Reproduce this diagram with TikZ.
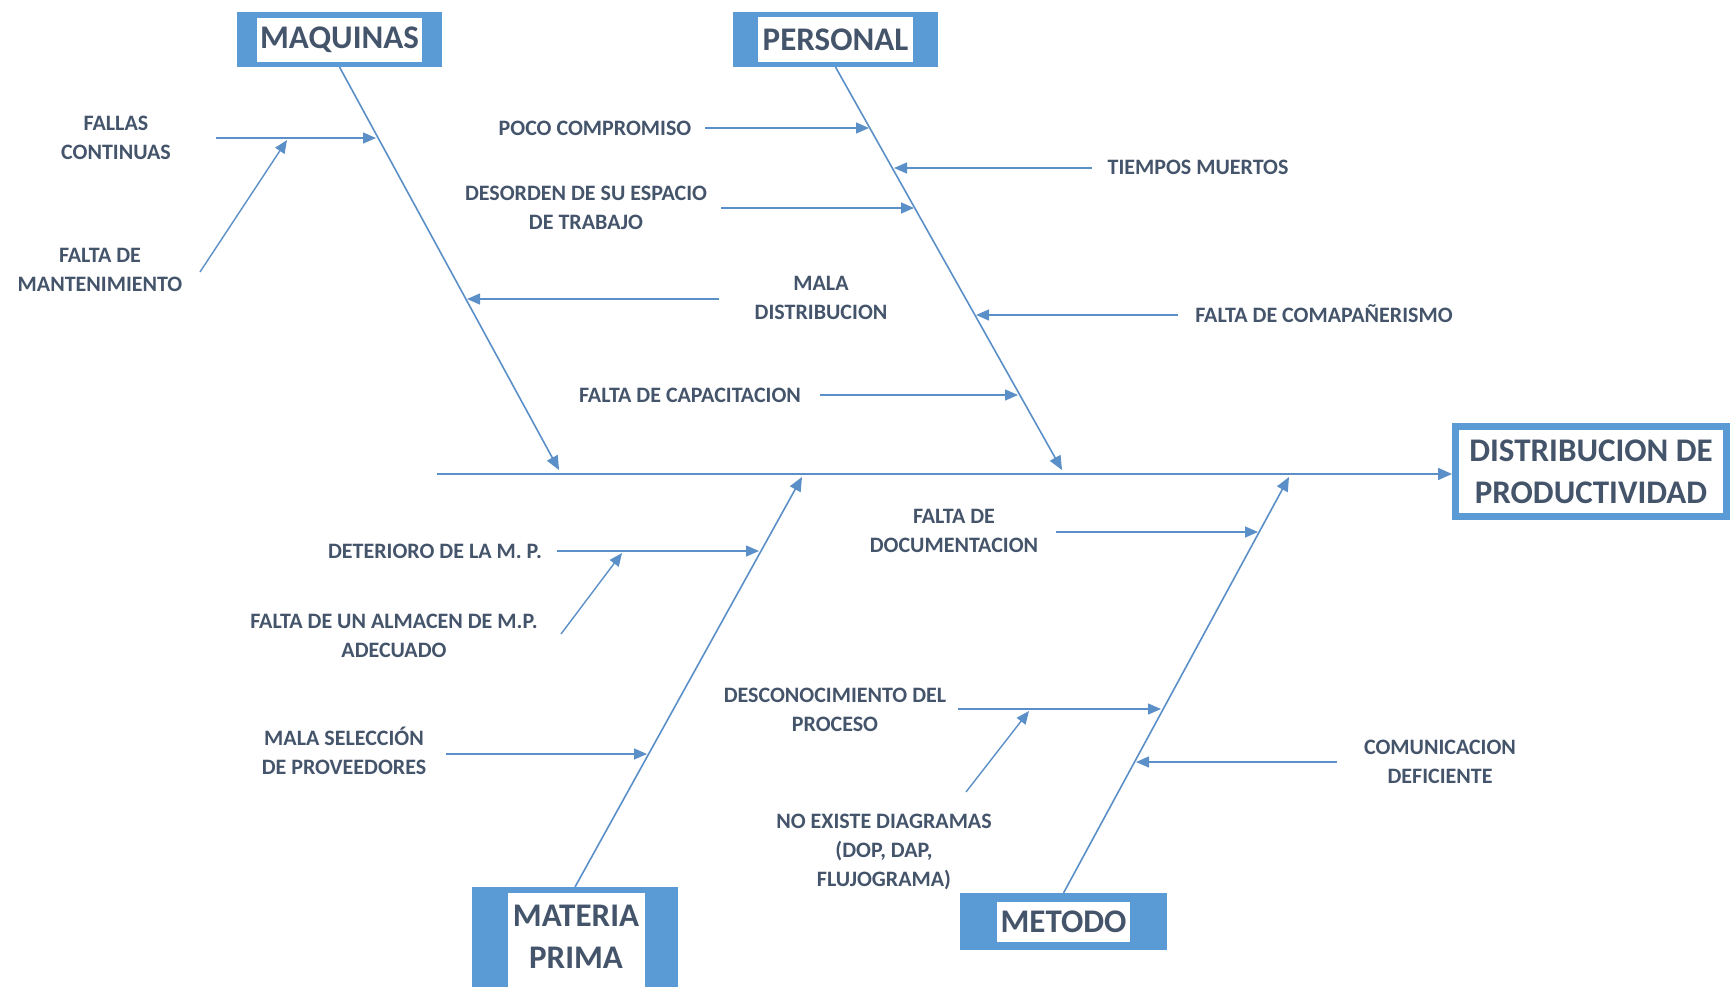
\documentclass[tikz,border=0pt]{standalone}
\usepackage{fontspec}
\setmainfont{Carlito}
\usetikzlibrary{arrows.meta}
\definecolor{boxblue}{HTML}{5B9BD5}
\definecolor{txt}{HTML}{44546A}
\definecolor{linec}{HTML}{5B8FC7}

\begin{document}
\begin{tikzpicture}[x=0.5pt,y=-0.5pt,
  lbl/.style={font=\bfseries\fontsize{11}{14.4}\selectfont, text=txt, align=center, inner sep=0pt},
  headtxt/.style={font=\bfseries\fontsize{16.5}{21}\selectfont, text=txt, align=center, inner sep=0pt},
  blueblock/.style={fill=boxblue, inner sep=0pt, outer sep=0pt},
  bone/.style={draw=linec, line width=0.8pt, -{Triangle[length=7pt,width=6pt]}},
  rib/.style={draw=linec, line width=0.7pt, -{Triangle[length=6.5pt,width=5.5pt]}},
]
\useasboundingbox (0,0) rectangle (1735,986);
\begin{scope}
\clip (0,0) rectangle (1735,986);

% ---------- category headers ----------
\node[blueblock, minimum width=102.5pt, minimum height=27.5pt] (maq) at (339.5,39.5) {};
\fill[white] (257,18) rectangle (422,62);
\node[headtxt] (maqt) at (339.5,40) {MAQUINAS};

\node[blueblock, minimum width=102.5pt, minimum height=27.5pt] (per) at (835.5,39.5) {};
\fill[white] (758,17) rectangle (913,62);
\node[headtxt] (pert) at (835.5,40) {PERSONAL};

\node[blueblock, minimum width=103pt, minimum height=56.5pt] (mp) at (575,943.5) {};
\fill[white] (508,893) rectangle (645,1000);
\node[headtxt] (mpt) at (576,937) {MATERIA\\PRIMA};

\node[blueblock, minimum width=103.5pt, minimum height=28.5pt] (met) at (1063.5,921.5) {};
\fill[white] (997,902) rectangle (1130,942);
\node[headtxt] (mett) at (1063.5,922) {METODO};

% ---------- effect ----------
\node[draw=boxblue, line width=3.5pt, fill=white, minimum width=135.5pt, minimum height=45pt,
      inner sep=0pt, headtxt] (efecto) at (1591,471.5) {DISTRIBUCION DE\\PRODUCTIVIDAD};

% ---------- spine ----------
\coordinate (spst) at (437,474);
\draw[bone] (spst) -- (spst -| efecto.west);

% ---------- main bones ----------
\coordinate (maqend) at (559,470);
\coordinate (perend) at (1062,470);
\coordinate (mpend) at (802,477);
\coordinate (metend) at (1289,477);
\draw[bone] (maq.south) -- (maqend);
\draw[bone] (per.south) -- (perend);
\draw[bone] (mp.north) -- (mpend);
\draw[bone] (met.north) -- (metend);

% ---------- MAQUINAS causes ----------
\node[lbl] (fallas) at (116,138) {FALLAS\\CONTINUAS};
\coordinate (fallasA) at (216,138); \coordinate (fallasB) at (376,138);
\draw[rib] (fallasA) -- (fallasB);

\node[lbl] (mant) at (100,270) {FALTA DE\\MANTENIMIENTO};
\coordinate (mantA) at (200,272); \coordinate (mantB) at (287,140);
\draw[rib] (mantA) -- (mantB);

\node[lbl] (maladist) at (821,298) {MALA\\DISTRIBUCION};
\coordinate (maladistA) at (719,299); \coordinate (maladistB) at (467,299);
\draw[rib] (maladistA) -- (maladistB);

% ---------- PERSONAL causes ----------
\node[lbl] (poco) at (595,128) {POCO COMPROMISO};
\coordinate (pocoA) at (705,128); \coordinate (pocoB) at (869,128);
\draw[rib] (pocoA) -- (pocoB);

\node[lbl] (tiempos) at (1198,167) {TIEMPOS MUERTOS};
\coordinate (tiemposA) at (1092,168); \coordinate (tiemposB) at (894,168);
\draw[rib] (tiemposA) -- (tiemposB);

\node[lbl] (desorden) at (586,208) {DESORDEN DE SU ESPACIO\\DE TRABAJO};
\coordinate (desordenA) at (721,208); \coordinate (desordenB) at (914,208);
\draw[rib] (desordenA) -- (desordenB);

\node[lbl] (compan) at (1324,314) {FALTA DE COMAPAÑERISMO};
\coordinate (companA) at (1178,315); \coordinate (companB) at (976,315);
\draw[rib] (companA) -- (companB);

\node[lbl] (capac) at (690,395) {FALTA DE CAPACITACION};
\coordinate (capacA) at (820,395); \coordinate (capacB) at (1018,395);
\draw[rib] (capacA) -- (capacB);

% ---------- MATERIA PRIMA causes ----------
\node[lbl] (deterioro) at (435,551) {DETERIORO DE LA M. P.};
\coordinate (deterioroA) at (557,551); \coordinate (deterioroB) at (759,551);
\draw[rib] (deterioroA) -- (deterioroB);

\node[lbl] (almacen) at (394,636) {FALTA DE UN ALMACEN DE M.P.\\ADECUADO};
\coordinate (almacenA) at (561,634); \coordinate (almacenB) at (622,553);
\draw[rib] (almacenA) -- (almacenB);

\node[lbl] (seleccion) at (344,751) {MALA SELECCIÓN\\DE PROVEEDORES};
\coordinate (seleccionA) at (446,754); \coordinate (seleccionB) at (647,754);
\draw[rib] (seleccionA) -- (seleccionB);

% ---------- METODO causes ----------
\node[lbl] (docum) at (954,531) {FALTA DE\\DOCUMENTACION};
\coordinate (documA) at (1056,532); \coordinate (documB) at (1258,532);
\draw[rib] (documA) -- (documB);

\node[lbl] (descon) at (835,710) {DESCONOCIMIENTO DEL\\PROCESO};
\coordinate (desconA) at (958,709); \coordinate (desconB) at (1161,709);
\draw[rib] (desconA) -- (desconB);

\node[lbl] (noexiste) at (884,852) {NO EXISTE DIAGRAMAS\\(DOP, DAP,\\FLUJOGRAMA)};
\coordinate (noexisteA) at (966,792); \coordinate (noexisteB) at (1029,711);
\draw[rib] (noexisteA) -- (noexisteB);

\node[lbl] (comunic) at (1440,762) {COMUNICACION\\DEFICIENTE};
\coordinate (comunicA) at (1337,762); \coordinate (comunicB) at (1136,762);
\draw[rib] (comunicA) -- (comunicB);
\end{scope}
\end{tikzpicture}
\end{document}
